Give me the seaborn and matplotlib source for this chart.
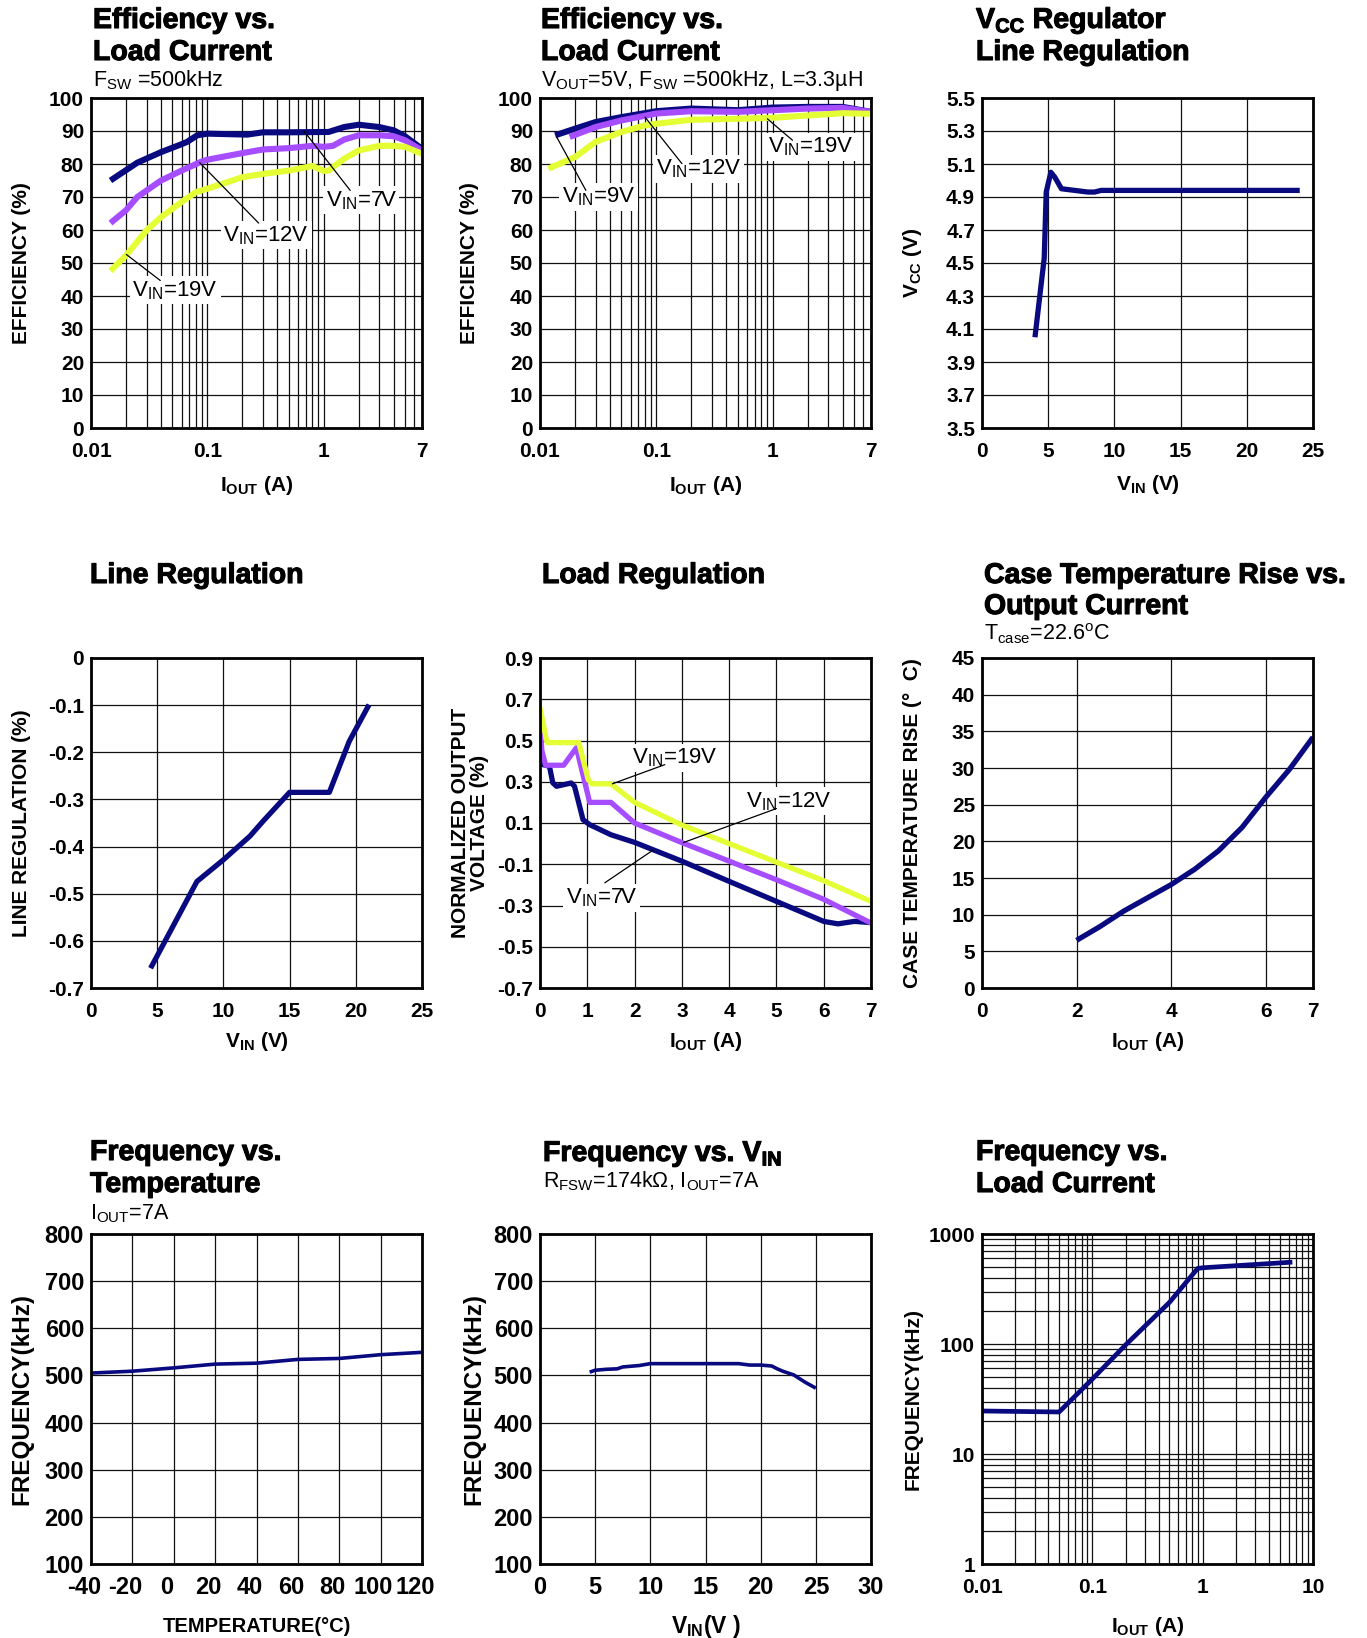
import numpy as np
import matplotlib
matplotlib.use('Agg')
import matplotlib.pyplot as plt
import matplotlib.patheffects as pe
import seaborn as sns
from matplotlib.ticker import LogLocator, NullFormatter
from matplotlib.transforms import ScaledTranslation

sns.set_theme(style='white')
plt.rcParams['font.family'] = ['Liberation Sans', 'DejaVu Sans']
plt.rcParams['font.weight'] = 'bold'
plt.rcParams['mathtext.fontset'] = 'custom'
plt.rcParams['mathtext.rm'] = 'Liberation Sans:weight=normal'
plt.rcParams['mathtext.bf'] = 'Liberation Sans:weight=bold'
plt.rcParams['mathtext.it'] = 'Liberation Sans:italic:weight=normal'
plt.rcParams['mathtext.sf'] = 'Liberation Sans:weight=normal'
plt.rcParams['lines.solid_capstyle'] = 'butt'
plt.rcParams['axes.unicode_minus'] = False
for k in ['text.color', 'axes.labelcolor', 'xtick.color', 'ytick.color', 'axes.edgecolor']:
    plt.rcParams[k] = 'black'

# ---------------- data ----------------
# 1) Efficiency vs load current (FSW=500kHz)
eff1_iout_7v = [0.0147, 0.025, 0.04, 0.06, 0.067, 0.082, 0.1, 0.22, 0.3, 0.5, 1.0, 1.1, 1.5, 2, 3, 4, 5, 7]
eff1_7v = [75, 80.4, 83.6, 86, 86.7, 88.7, 89.2, 88.9, 89.6, 89.6, 89.7, 89.7, 91.2, 91.9, 91.2, 90.2, 88.4, 84.6]
eff1_iout_12v = [0.0147, 0.02, 0.025, 0.04, 0.06, 0.09, 0.1, 0.2, 0.3, 0.5, 0.8, 1.0, 1.2, 1.5, 2, 3, 4, 5, 7]
eff1_12v = [62.1, 66, 70, 75, 78, 80.8, 81.3, 83.3, 84.4, 84.8, 85.5, 85.2, 85.5, 87.4, 88.7, 88.7, 88.4, 87.2, 84.1]
eff1_iout_19v = [0.0147, 0.02, 0.03, 0.04, 0.06, 0.08, 0.1, 0.2, 0.3, 0.5, 0.8, 1.0, 1.1, 1.5, 2, 3, 4, 5, 7]
eff1_19v = [47.6, 52.3, 59.9, 63.9, 68.5, 71.5, 72.5, 76, 77, 78, 79.4, 77.9, 78, 81.6, 84.1, 85.5, 85.5, 85.2, 83.1]

# 2) Efficiency vs load current (VOUT=5V)
eff2_iout_9v = [0.0135, 0.02, 0.03, 0.05, 0.1, 0.2, 0.5, 1, 2, 4, 7]
eff2_9v = [88.7, 90.7, 92.7, 94.2, 96, 96.8, 96.3, 97.1, 97.3, 97.3, 95.8]
eff2_iout_12v = [0.018, 0.03, 0.05, 0.1, 0.2, 0.5, 1, 2, 4, 7]
eff2_12v = [88.2, 91.2, 93.2, 95.3, 96, 95.8, 96.3, 96.8, 97, 95.8]
eff2_iout_19v = [0.0118, 0.02, 0.03, 0.05, 0.08, 0.1, 0.2, 0.5, 1, 2, 4, 7]
eff2_19v = [78.6, 82.1, 86.7, 89.7, 91.7, 92.2, 93.4, 93.7, 94, 94.7, 95.4, 95.2]

# 3) VCC regulator line regulation
vcc_vin = [4.0, 4.7, 4.85, 5.2, 5.5, 6.0, 7, 8, 8.5, 9, 24]
vcc_v = [4.05, 4.53, 4.93, 5.05, 5.02, 4.95, 4.94, 4.93, 4.93, 4.94, 4.94]

# 4) Line regulation
linereg_vin = [4.5, 8, 10, 12, 13, 15, 18, 19.5, 21]
linereg_pct = [-0.658, -0.474, -0.428, -0.378, -0.346, -0.285, -0.285, -0.177, -0.099]

# 5) Load regulation
loadreg_iout_19v = [0, 0.05, 0.15, 0.5, 0.82, 1.02, 1.1, 1.5, 2, 3, 4, 5, 6, 7]
loadreg_19v = [0.66, 0.6, 0.49, 0.49, 0.49, 0.31, 0.29, 0.29, 0.2, 0.09, 0.0, -0.09, -0.18, -0.28]
loadreg_iout_12v = [0, 0.04, 0.12, 0.5, 0.77, 1.05, 1.5, 2, 3, 4, 5, 6, 7]
loadreg_12v = [0.57, 0.45, 0.38, 0.38, 0.465, 0.2, 0.2, 0.1, 0.005, -0.085, -0.175, -0.27, -0.385]
loadreg_iout_7v = [0, 0.06, 0.2, 0.27, 0.35, 0.66, 0.73, 0.91, 1.05, 1.5, 2, 3, 4, 5, 6, 6.3, 6.65, 7]
loadreg_7v = [0.475, 0.383, 0.375, 0.295, 0.278, 0.294, 0.278, 0.116, 0.092, 0.043, 0.006, -0.085,
              -0.183, -0.28, -0.377, -0.389, -0.377, -0.383]

# 6) Case temperature rise
case_iout = [2, 2.5, 3, 3.5, 4, 4.5, 5, 5.5, 6, 6.5, 7]
case_rise = [6.5, 8.4, 10.5, 12.3, 14.1, 16.2, 18.7, 21.9, 26, 29.8, 34.2]

# 7) Frequency vs temperature
ftemp_t = [-40, -20, 0, 20, 40, 60, 80, 100, 120]
ftemp_khz = [505, 509, 516, 524, 526, 534, 536, 544, 549]

# 8) Frequency vs VIN
fvin_v = [4.5, 5, 6, 7, 7.5, 9, 10, 15, 18, 19, 20, 21, 21.5, 22, 23, 24, 25]
fvin_khz = [507, 511, 513, 514, 518, 521, 525, 525, 525, 522, 522, 520, 514, 509, 501, 486, 473]

# 9) Frequency vs load current
fload_iout = [0.01, 0.05, 0.1, 0.2, 0.5, 0.9, 1.0, 6.5]
fload_khz = [24.6, 24.1, 48, 98, 239, 486, 493, 555]

# ticks
log_xticks = [0.01, 0.1, 1, 7]
log_xticklabels = ['0.01', '0.1', '1', '7']
eff_yticks = list(range(0, 101, 10))
vcc_yticks = [3.5, 3.7, 3.9, 4.1, 4.3, 4.5, 4.7, 4.9, 5.1, 5.3, 5.5]
vin25_ticks = [0, 5, 10, 15, 20, 25]
linereg_yticks = [0, -0.1, -0.2, -0.3, -0.4, -0.5, -0.6, -0.7]
linereg_ylabels = ['0', '-0.1', '-0.2', '-0.3', '-0.4', '-0.5', '-0.6', '-0.7']
loadreg_yticks = [0.9, 0.7, 0.5, 0.3, 0.1, -0.1, -0.3, -0.5, -0.7]
loadreg_ylabels = ['0.9', '0.7', '0.5', '0.3', '0.1', '-0.1', '-0.3', '-0.5', '-0.7']
iout7_ticks = [0, 1, 2, 3, 4, 5, 6, 7]
case_xticks = [0, 2, 4, 6, 7]
case_yticks = list(range(0, 46, 5))
temp_ticks = list(range(-40, 121, 20))
freq_yticks = list(range(100, 801, 100))
vin30_ticks = [0, 5, 10, 15, 20, 25, 30]
fload_xticks = [0.01, 0.1, 1, 10]
fload_xlabels = ['0.01', '0.1', '1', '10']
fload_yticks = [1, 10, 100, 1000]
fload_ylabels = ['1', '10', '100', '1000']

NAVY = '#0a0a80'
PURPLE = '#a64dff'
YELLOW = '#e4ff33'

# ---------------- layout ----------------
W, H = 1367, 1638
fig = plt.figure(figsize=(W / 100, H / 100), dpi=100)
fig.patch.set_facecolor('white')
COL_LEFT = [91, 540, 982]
ROW_TOP = [98, 658, 1234]
AX_W, AX_H = 331, 330
TITLE_FX = [pe.withStroke(linewidth=0.8, foreground='black')]


def add_ax(c, r):
    l, t = COL_LEFT[c], ROW_TOP[r]
    return fig.add_axes([l / W, 1 - (t + AX_H) / H, AX_W / W, AX_H / H])


def ftext(x, y, s, size, weight='bold'):
    t = fig.text(x / W, 1 - y / H, s, fontsize=size, fontweight=weight, ha='left', va='baseline',
                 color='black')
    if weight == 'bold':
        t.set_path_effects(TITLE_FX)


def draw(ax, x, y, color, lw):
    sns.lineplot(x=x, y=y, ax=ax, color=color, linewidth=lw, estimator=None,
                 sort=False, legend=False)


def style(ax, tick_size=15, pad=10):
    ax.set_facecolor('white')
    for s in ax.spines.values():
        s.set_visible(True)
        s.set_linewidth(2.0)
        s.set_color('black')
    ax.tick_params(which='both', length=0, labelsize=tick_size, colors='black')
    ax.tick_params(axis='x', pad=pad)
    ax.tick_params(axis='y', pad=5)
    ax.grid(True, which='both', color='#111111', linewidth=0.9)
    ax.set_axisbelow(True)


def labels(ax, xl, yl, xy=-0.17, yx=-0.209, xsize=15, ysize=15):
    ax.set_xlabel(xl, fontsize=xsize, fontweight='bold')
    ax.set_ylabel(yl, fontsize=ysize, fontweight='bold')
    ax.xaxis.label.set_va('center')
    ax.yaxis.label.set_va('center')
    ax.xaxis.set_label_coords(0.5, xy)
    ax.yaxis.set_label_coords(yx, 0.5)


def note(ax, text, txy, p0, p1, size=16):
    ax.annotate('', xy=p0, xytext=p1,
                arrowprops=dict(arrowstyle='-', color='black', lw=0.9, shrinkA=0, shrinkB=0),
                zorder=6)
    ax.text(txy[0], txy[1], text, ha='center', va='center', fontsize=size, fontweight='normal',
            bbox=dict(facecolor='white', edgecolor='none', pad=2), zorder=5)


def log_x(ax, ticks, tlabels, lo, hi):
    ax.set_xscale('log')
    ax.set_xlim(lo, hi)
    ax.xaxis.set_minor_locator(LogLocator(base=10, subs=np.arange(2, 10)))
    ax.xaxis.set_minor_formatter(NullFormatter())
    ax.set_xticks(ticks)
    ax.set_xticklabels(tlabels)


# ---------- 1 ----------
ax = add_ax(0, 0)
draw(ax, eff1_iout_7v, eff1_7v, NAVY, 4.4)
draw(ax, eff1_iout_12v, eff1_12v, PURPLE, 4.4)
draw(ax, eff1_iout_19v, eff1_19v, YELLOW, 4.4)
log_x(ax, log_xticks, log_xticklabels, 0.01, 7)
ax.set_ylim(0, 100)
ax.set_yticks(eff_yticks)
style(ax)
labels(ax, r'$\mathbf{I_{OUT}}$ (A)', 'EFFICIENCY (%)', xy=-0.173)
note(ax, r'V$_{\mathrm{IN}}$=7V', (2.1, 69), (0.68, 89.9), (1.69, 72))
note(ax, r'V$_{\mathrm{IN}}$=12V', (0.32, 58.4), (0.086, 80.4), (0.276, 62.1))
note(ax, r'V$_{\mathrm{IN}}$=19V', (0.053, 41.7), (0.0201, 52.6), (0.0394, 44.7))
ftext(93, 28, 'Efficiency vs.', 20.5)
ftext(93, 60, 'Load Current', 20.5)
ftext(93, 86, r'F$_{\mathrm{SW}}$ =500kHz', 15.5, 'normal')

# ---------- 2 ----------
ax = add_ax(1, 0)
draw(ax, eff2_iout_9v, eff2_9v, NAVY, 4.4)
draw(ax, eff2_iout_12v, eff2_12v, PURPLE, 4.4)
draw(ax, eff2_iout_19v, eff2_19v, YELLOW, 4.4)
log_x(ax, log_xticks, log_xticklabels, 0.01, 7)
ax.set_ylim(0, 100)
ax.set_yticks(eff_yticks)
style(ax)
labels(ax, r'$\mathbf{I_{OUT}}$ (A)', 'EFFICIENCY (%)', xy=-0.173, yx=-0.212)
note(ax, r'V$_{\mathrm{IN}}$=9V', (0.032, 70), (0.0139, 88.2), (0.0248, 72))
note(ax, r'V$_{\mathrm{IN}}$=12V', (0.232, 78.6), (0.080, 94.2), (0.166, 80.1))
note(ax, r'V$_{\mathrm{IN}}$=19V', (2.13, 85.2), (0.9, 93.7), (1.48, 87.2))
ftext(541, 28, 'Efficiency vs.', 20.5)
ftext(541, 60, 'Load Current', 20.5)
ftext(541, 86, r'V$_{\mathrm{OUT}}$=5V, F$_{\mathrm{SW}}$ =500kHz, L=3.3µH', 15.5, 'normal')

# ---------- 3 ----------
ax = add_ax(2, 0)
draw(ax, vcc_vin, vcc_v, NAVY, 3.8)
ax.set_xlim(0, 25)
ax.set_ylim(3.5, 5.5)
ax.set_xticks(vin25_ticks)
ax.set_yticks(vcc_yticks)
ax.set_yticklabels([f'{v:.1f}' for v in vcc_yticks])
style(ax)
labels(ax, r'$\mathbf{V_{IN}}$ (V)', r'$\mathbf{V_{CC}}$ (V)', xy=-0.17, yx=-0.209)
ftext(976, 28, r'$\mathbf{V_{CC}}$ Regulator', 20.5)
ftext(976, 60, 'Line Regulation', 20.5)

# ---------- 4 ----------
ax = add_ax(0, 1)
draw(ax, linereg_vin, linereg_pct, NAVY, 3.8)
ax.set_xlim(0, 25)
ax.set_ylim(-0.7, 0)
ax.set_xticks(vin25_ticks)
ax.set_yticks(linereg_yticks)
ax.set_yticklabels(linereg_ylabels)
style(ax)
labels(ax, r'$\mathbf{V_{IN}}$ (V)', 'LINE REGULATION (%)', xy=-0.163)
ftext(90, 583, 'Line Regulation', 20.5)

# ---------- 5 ----------
ax = add_ax(1, 1)
draw(ax, loadreg_iout_7v, loadreg_7v, NAVY, 3.8)
draw(ax, loadreg_iout_12v, loadreg_12v, PURPLE, 3.8)
draw(ax, loadreg_iout_19v, loadreg_19v, YELLOW, 3.8)
ax.set_xlim(0, 7)
ax.set_ylim(-0.7, 0.9)
ax.set_xticks(iout7_ticks)
ax.set_yticks(loadreg_yticks)
ax.set_yticklabels(loadreg_ylabels)
style(ax)
labels(ax, r'$\mathbf{I_{OUT}}$ (A)', 'NORMALIZED OUTPUT\nVOLTAGE (%)', xy=-0.163, yx=-0.212)
ax.yaxis.label.set_linespacing(1.0)
note(ax, r'V$_{\mathrm{IN}}$=19V', (2.86, 0.415), (1.53, 0.29), (2.64, 0.383))
note(ax, r'V$_{\mathrm{IN}}$=12V', (5.27, 0.205), (3.03, 0.005), (5.0, 0.17))
note(ax, r'V$_{\mathrm{IN}}$=7V', (1.3, -0.264), (1.37, -0.19), (2.4, -0.03))
ftext(542, 583, 'Load Regulation', 20.5)

# ---------- 6 ----------
ax = add_ax(2, 1)
draw(ax, case_iout, case_rise, NAVY, 3.8)
ax.set_xlim(0, 7)
ax.set_ylim(0, 45)
ax.set_xticks(case_xticks)
ax.set_yticks(case_yticks)
style(ax)
labels(ax, r'$\mathbf{I_{OUT}}$ (A)', 'CASE TEMPERATURE RISE (°  C)', xy=-0.163, yx=-0.209)
ftext(984, 583, 'Case Temperature Rise vs.', 20.5)
ftext(984, 614, 'Output Current', 20.5)
ftext(984, 640, r'T$_{\mathrm{case}}$=22.6$^{\mathrm{o}}$C', 15.5, 'normal')

# ---------- 7 ----------
ax = add_ax(0, 2)
draw(ax, ftemp_t, ftemp_khz, NAVY, 2.6)
ax.set_xlim(-40, 120)
ax.set_ylim(100, 800)
ax.set_xticks(temp_ticks)
ax.set_yticks(freq_yticks)
style(ax, tick_size=17, pad=9)
for lab in ax.get_xticklabels():
    lab.set_transform(lab.get_transform() + ScaledTranslation(-0.07, 0, fig.dpi_scale_trans))
labels(ax, 'TEMPERATURE(°C)', 'FREQUENCY(kHz)', xy=-0.19, yx=-0.209, xsize=14.5, ysize=17.5)
ftext(90, 1160, 'Frequency vs.', 20.5)
ftext(90, 1192, 'Temperature', 20.5)
ftext(90, 1219, r'I$_{\mathrm{OUT}}$=7A', 15.5, 'normal')

# ---------- 8 ----------
ax = add_ax(1, 2)
draw(ax, fvin_v, fvin_khz, NAVY, 2.6)
ax.set_xlim(0, 30)
ax.set_ylim(100, 800)
ax.set_xticks(vin30_ticks)
ax.set_yticks(freq_yticks)
style(ax, tick_size=17, pad=9)
labels(ax, r'$\mathbf{V_{IN}}$(V )', 'FREQUENCY(kHz)', xy=-0.19, yx=-0.2, xsize=16.5, ysize=17.5)
ftext(543, 1161, r'Frequency vs. $\mathbf{V_{IN}}$', 20.5)
ftext(543, 1187, r'R$_{\mathrm{FSW}}$=174kΩ, I$_{\mathrm{OUT}}$=7A', 15.5, 'normal')

# ---------- 9 ----------
ax = add_ax(2, 2)
draw(ax, fload_iout, fload_khz, NAVY, 3.4)
log_x(ax, fload_xticks, fload_xlabels, 0.01, 10)
ax.set_yscale('log')
ax.set_ylim(1, 1000)
ax.yaxis.set_minor_locator(LogLocator(base=10, subs=np.arange(2, 10)))
ax.yaxis.set_minor_formatter(NullFormatter())
ax.set_yticks(fload_yticks)
ax.set_yticklabels(fload_ylabels)
style(ax, tick_size=15, pad=10)
labels(ax, r'$\mathbf{I_{OUT}}$ (A)', 'FREQUENCY(kHz)', xy=-0.19, yx=-0.209, xsize=15, ysize=15)
ftext(976, 1160, 'Frequency vs.', 20.5)
ftext(976, 1192, 'Load Current', 20.5)

fig.savefig('out.png', dpi=100, facecolor='white')
